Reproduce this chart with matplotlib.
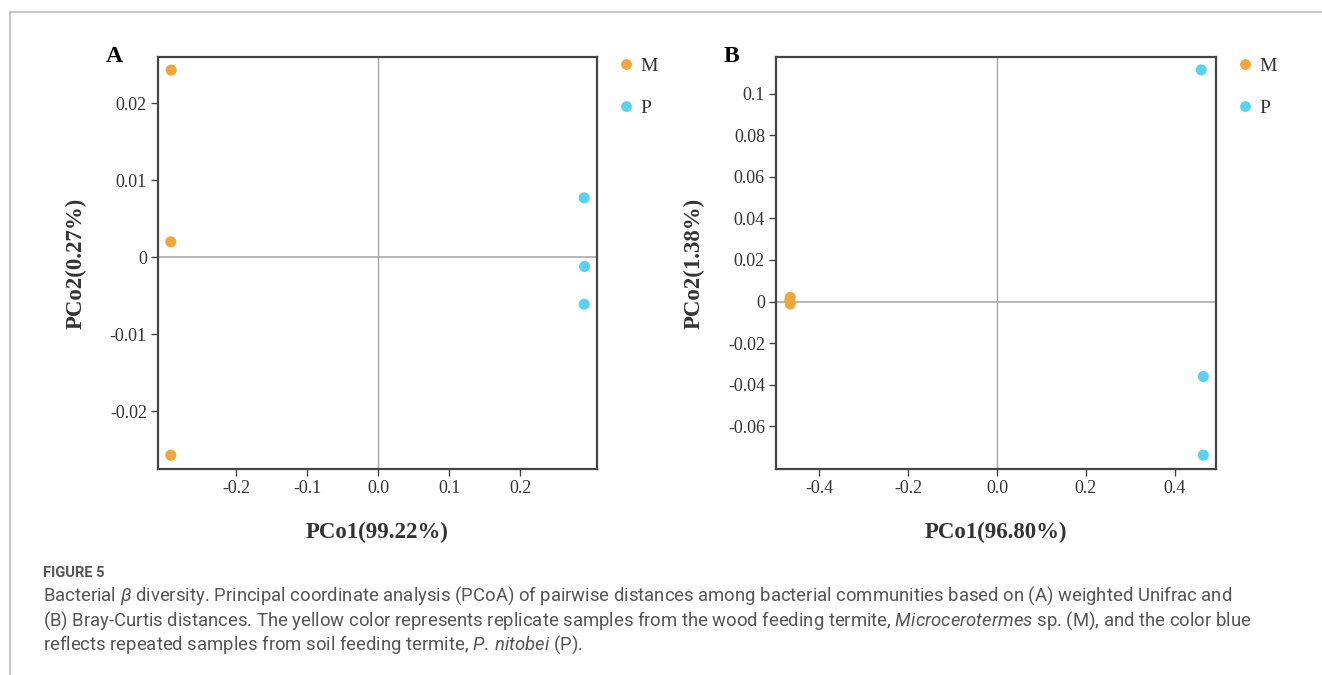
import matplotlib
matplotlib.use("Agg")
import matplotlib.pyplot as plt
from matplotlib.lines import Line2D

# --------------------------------------------------
# Data
# --------------------------------------------------

groups = ["M", "P"]
colors = ["#f0a63a", "#5ad1ef"]

# Panel A: weighted Unifrac
a_m_x = [-0.2915, -0.2920, -0.2920]
a_m_y = [0.0243, 0.0020, -0.0257]
a_p_x = [0.2900, 0.2905, 0.2900]
a_p_y = [0.0077, -0.0012, -0.0061]

# Panel B: Bray-Curtis
b_m_x = [-0.466, -0.467, -0.466]
b_m_y = [0.0020, 0.0004, -0.0012]
b_p_x = [0.460, 0.465, 0.465]
b_p_y = [0.1116, -0.0361, -0.0740]

a_xticks = [-0.2, -0.1, 0.0, 0.1, 0.2]
a_yticks = [0.02, 0.01, 0, -0.01, -0.02]
a_yticklabels = ["0.02", "0.01", "0", "-0.01", "-0.02"]

b_xticks = [-0.4, -0.2, 0.0, 0.2, 0.4]
b_yticks = [0.1, 0.08, 0.06, 0.04, 0.02, 0, -0.02, -0.04, -0.06]
b_yticklabels = ["0.1", "0.08", "0.06", "0.04", "0.02", "0",
                 "-0.02", "-0.04", "-0.06"]

W, H = 1322, 675

plt.rcParams["font.family"] = ["Liberation Serif", "DejaVu Serif"]
plt.rcParams["mathtext.fontset"] = "custom"
plt.rcParams["mathtext.rm"] = "Roboto"
plt.rcParams["mathtext.it"] = "Roboto:italic"

fig = plt.figure(figsize=(W / 100, H / 100), dpi=100)


def px_axes(left, top, right, bottom):
    return fig.add_axes([left / W, 1 - bottom / H,
                         (right - left) / W, (bottom - top) / H])


def panel(ax, mx, my, px, py, xlim, ylim, xticks, yticks, yticklabels,
          xlabel, ylabel, letter):
    ax.axhline(0, color="#b0b0b0", linewidth=1.3, zorder=1)
    ax.axvline(0, color="#a8a8a8", linewidth=1.0, zorder=1)

    ax.scatter(mx, my, s=64, color=colors[0], edgecolor="none", zorder=3)
    ax.scatter(px, py, s=64, color=colors[1], edgecolor="none", zorder=3)

    ax.set_xlim(*xlim)
    ax.set_ylim(*ylim)

    ax.set_xticks(xticks)
    ax.set_xticklabels([f"{t:.1f}" for t in xticks])
    ax.set_yticks(yticks)
    ax.set_yticklabels(yticklabels)

    ax.tick_params(direction="out", length=5, width=1.0, color="#444444",
                   labelsize=13, labelcolor="#333333", pad=3)

    for s in ax.spines.values():
        s.set_color("#444444")
        s.set_linewidth(1.6)

    ax.set_xlabel(xlabel, fontsize=16.5, fontweight="bold",
                  color="#333333", labelpad=17.5)
    ax.set_ylabel(ylabel, fontsize=16.5, fontweight="bold",
                  color="#333333", labelpad=16.5)

    ax.text(-0.12, 1.0, letter, transform=ax.transAxes, fontsize=17,
            fontweight="bold", ha="left", va="center", color="black")

    handles = [Line2D([], [], marker="o", linestyle="none", markersize=7.8,
                      markerfacecolor=c, markeredgecolor="none")
               for c in colors]
    ax.legend(handles, groups, loc="upper left",
              bbox_to_anchor=(1.026, 1.018), frameon=False,
              fontsize=14, handletextpad=0.25, labelspacing=1.25,
              handlelength=1.0, borderaxespad=0, labelcolor="#333333")


ax_a = px_axes(158, 57, 597, 469)
panel(ax_a, a_m_x, a_m_y, a_p_x, a_p_y,
      (-0.31, 0.308), (-0.0275, 0.026),
      a_xticks, a_yticks, a_yticklabels,
      "PCo1(99.22%)", "PCo2(0.27%)", "A")

ax_b = px_axes(776, 57, 1216, 469)
panel(ax_b, b_m_x, b_m_y, b_p_x, b_p_y,
      (-0.498, 0.4935), (-0.0807, 0.1178),
      b_xticks, b_yticks, b_yticklabels,
      "PCo1(96.80%)", "PCo2(1.38%)", "B")

# --------------------------------------------------
# Page frame
# --------------------------------------------------

fig.add_artist(Line2D([10 / W, 1], [1 - 12 / H, 1 - 12 / H],
                      transform=fig.transFigure, color="#bdbdbd",
                      linewidth=1.2))
fig.add_artist(Line2D([10 / W, 10 / W], [0, 1 - 12 / H],
                      transform=fig.transFigure, color="#bdbdbd",
                      linewidth=1.2))

# --------------------------------------------------
# Caption
# --------------------------------------------------

cap_kw = dict(family="Roboto", color="#555555", ha="left", va="center")

fig.text(43 / W, 1 - 573 / H, "FIGURE 5", fontsize=10.5,
         fontweight="bold", **cap_kw)

lines = [
    r"Bacterial $\it{\beta}$ diversity. Principal coordinate analysis (PCoA) "
    "of pairwise distances among bacterial communities based on (A) "
    "weighted Unifrac and",
    r"(B) Bray-Curtis distances. The yellow color represents replicate "
    r"samples from the wood feeding termite, $\it{Microcerotermes}$ sp. (M), "
    "and the color blue",
    r"reflects repeated samples from soil feeding termite, "
    r"$\it{P.\,nitobei}$ (P).",
]
for i, t in enumerate(lines):
    fig.text(43 / W, 1 - (596 + 24.5 * i) / H, t, fontsize=13.3, **cap_kw)

fig.savefig("out.png", dpi=100)
